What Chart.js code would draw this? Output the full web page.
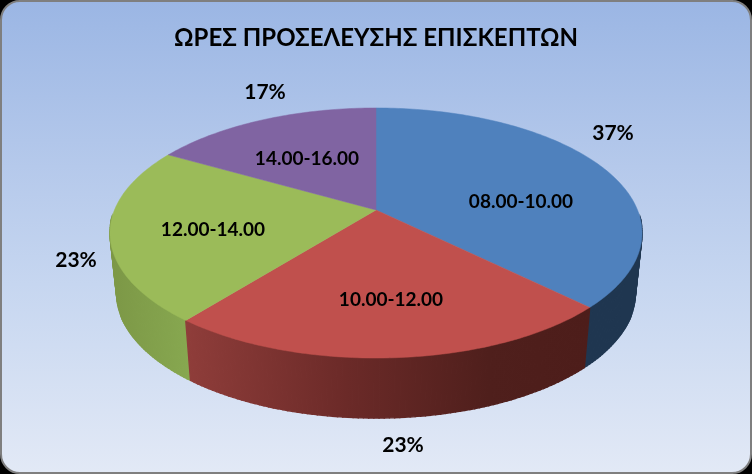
<!DOCTYPE html>
<html>
<head>
<meta charset="utf-8">
<script src="https://cdn.jsdelivr.net/npm/chart.js@4"></script>
<style>
  html, body { margin: 0; background: #000; overflow: hidden; }
  #panel {
    position: absolute; left: 0; top: 0; width: 752px; height: 474px;
    box-sizing: border-box; border: 2px solid #7f7f7f; border-radius: 20px;
    background: linear-gradient(#9bb6e4 0%, #b5c9eb 35%, #c6d6f0 60%, #e2e9f6 100%);
  }
  #chart { position: absolute; left: 0; top: 0; }
</style>
</head>
<body>
<div id="panel"></div>
<canvas id="chart" width="752" height="474"></canvas>
<script>
const categories = ['08.00-10.00', '10.00-12.00', '12.00-14.00', '14.00-16.00']
const shares = [37.4, 23.3, 22.6, 16.7]
const chartTitle = 'ΩΡΕΣ ΠΡΟΣΕΛΕΥΣΗΣ ΕΠΙΣΚΕΠΤΩΝ'

const topColors = ['#4f81bd', '#c0504d', '#9bbb59', '#8064a2']
const sideStops = [
  [[0, '#1f3650'], [1, '#1f3650']],
  [[0, '#8f3d3a'], [0.4, '#6b2a28'], [0.75, '#4f1f1c'], [1, '#4d1d1a']],
  [[0, '#7c9746'], [1, '#87a850']],
  [[0, '#4c3b61'], [1, '#4c3b61']],
]

// perspective of the tilted disc, fitted to the picture
const apex = { x: 376, y: 210 }
const lens = { a: 261.5, b: 120.8, k: 0.184 }
const depth = 60
const shrink = 0.975

// text anchors
const namePos = [[521, 202], [391, 300], [213, 230], [307, 159]]
const pctPos = [[613, 133], [403, 445], [76, 260], [265, 92]]

function project(angle, r = 1) {
  const u = Math.cos(angle) * r
  const v = Math.sin(angle) * r
  const d = 1 - lens.k * v
  return { x: apex.x + (lens.a * u) / d, y: apex.y + (lens.b * v) / d }
}

function lower(p) {
  return { x: apex.x + (p.x - apex.x) * shrink, y: p.y + depth }
}

function arcPoints(start, end) {
  const n = Math.max(2, Math.ceil((end - start) * 60))
  const pts = []
  for (let i = 0; i <= n; i++) pts.push(project(start + ((end - start) * i) / n))
  return pts
}

const pie3d = {
  id: 'pie3d',
  beforeDatasetsDraw(chart) {
    const ctx = chart.ctx
    const arcs = chart.getDatasetMeta(0).data
    ctx.save()

    // side wall first, the top face hides whatever lies behind it
    ;[3, 0, 2, 1].forEach((i) => {
      const pts = arcPoints(arcs[i].startAngle, arcs[i].endAngle)
      const bottom = pts.map(lower)
      const xs = pts.concat(bottom).map((p) => p.x)
      const grad = ctx.createLinearGradient(Math.min(...xs), 0, Math.max(...xs), 0)
      sideStops[i].forEach((s) => grad.addColorStop(s[0], s[1]))
      ctx.fillStyle = grad
      ctx.strokeStyle = grad
      ctx.lineWidth = 1.4
      // one quad per step, a single polygon leaves a gap at the silhouette
      for (let j = 0; j < pts.length - 1; j++) {
        // back half is hidden anyway, and its stroke would show round the rim
        if (pts[j].y < apex.y + 8 && pts[j + 1].y < apex.y + 8) continue
        ctx.beginPath()
        ctx.moveTo(pts[j].x, pts[j].y)
        ctx.lineTo(pts[j + 1].x, pts[j + 1].y)
        ctx.lineTo(bottom[j + 1].x, bottom[j + 1].y)
        ctx.lineTo(bottom[j].x, bottom[j].y)
        ctx.closePath()
        ctx.fill()
        ctx.stroke()
      }
    })

    arcs.forEach((arc, i) => {
      ctx.beginPath()
      ctx.moveTo(apex.x, apex.y)
      arcPoints(arc.startAngle, arc.endAngle).forEach((p) => ctx.lineTo(p.x, p.y))
      ctx.closePath()
      ctx.fillStyle = topColors[i]
      ctx.strokeStyle = topColors[i]
      ctx.lineWidth = 0.5
      ctx.fill()
      ctx.stroke()
    })

    ctx.fillStyle = '#000'
    ctx.textAlign = 'center'
    ctx.textBaseline = 'middle'
    ctx.font = 'bold 19px Lato, "Open Sans", sans-serif'
    categories.forEach((name, i) => ctx.fillText(name, namePos[i][0], namePos[i][1]))
    const total = shares.reduce((a, b) => a + b, 0)
    ctx.font = 'bold 21px Lato, "Open Sans", sans-serif'
    shares.forEach((v, i) => ctx.fillText(Math.round((v / total) * 100) + '%', pctPos[i][0], pctPos[i][1]))

    ctx.restore()
    return false
  },
}

new Chart(document.getElementById('chart'), {
  type: 'pie',
  data: {
    labels: categories,
    datasets: [{ data: shares, backgroundColor: topColors, borderWidth: 0 }],
  },
  options: {
    responsive: false,
    animation: false,
    devicePixelRatio: 1,
    events: [],
    plugins: {
      legend: { display: false },
      tooltip: { enabled: false },
      title: {
        display: true,
        text: chartTitle,
        color: '#000',
        font: { family: 'Lato, "Noto Sans", sans-serif', size: 24, weight: 'bold' },
        padding: { top: 24, bottom: 10 },
      },
    },
  },
  plugins: [pie3d],
})
</script>
</body>
</html>
